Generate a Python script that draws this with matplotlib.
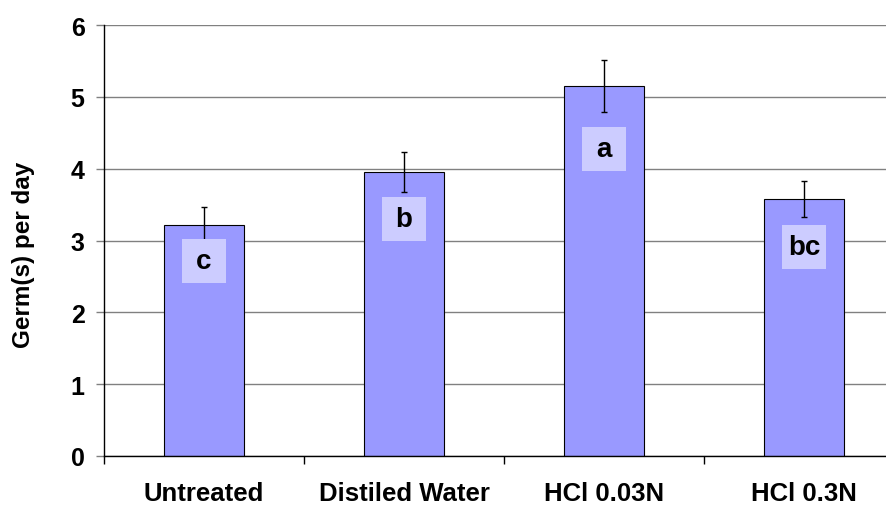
import matplotlib.pyplot as plt
import numpy as np

plt.rcParams["font.family"] = ["Liberation Sans", "DejaVu Sans"]
plt.rcParams["font.weight"] = "bold"

categories = ["Untreated", "Distiled Water", "HCl 0.03N", "HCl 0.3N"]
values = [3.22, 3.95, 5.15, 3.58]
errors = [0.24, 0.28, 0.36, 0.25]
letters = ["c", "b", "a", "bc"]
letter_y = [2.71, 3.30, 4.27, 2.91]

fig = plt.figure(figsize=(8.86, 5.06), dpi=100)
# plot area runs past the right edge in the original, so cut the x range there
ax = fig.add_axes([104 / 886, 49 / 506, 782 / 886, 431 / 506])

x = np.arange(len(categories))
ax.bar(x, values, width=0.4, color="#9999ff", edgecolor="black",
       linewidth=0.8, zorder=2)
ax.errorbar(x, values, yerr=errors, fmt="none", ecolor="black",
            elinewidth=1, capsize=2.5, capthick=1, zorder=3)
ax.plot(x, letter_y, ls="none", marker="s", markersize=32,
        markerfacecolor="#ccccff", markeredgewidth=0, zorder=4)
for xi, yi, txt in zip(x, letter_y, letters):
    ax.text(xi, yi, txt, ha="center", va="center", fontsize=20,
            fontweight="bold", zorder=5)

ax.set_xlim(-0.5, -0.5 + 782 / 200)
ax.set_ylim(0, 6)
ax.set_yticks(np.arange(0, 7, 1))
ax.yaxis.grid(True, color="#808080", lw=1, zorder=0)
ax.set_axisbelow(True)

ax.set_xticks(x)
ax.set_xticklabels(categories)
ax.set_xticks(np.arange(-0.5, 3.5, 1), minor=True)
ax.tick_params(axis="x", which="major", length=0, pad=18, labelsize=18.5)
ax.tick_params(axis="x", which="minor", direction="out", length=6, width=1)
ax.tick_params(axis="y", direction="out", length=6, width=1, labelsize=18,
               pad=8, color="#808080")

for side in ["top", "right"]:
    ax.spines[side].set_visible(False)
ax.spines["left"].set_linewidth(1)
ax.spines["bottom"].set_linewidth(1)

ax.set_ylabel("Germ(s) per day", fontsize=17.5, fontweight="bold")
ax.yaxis.set_label_coords(-0.088, 0.469)

plt.savefig("out.png", dpi=100)
